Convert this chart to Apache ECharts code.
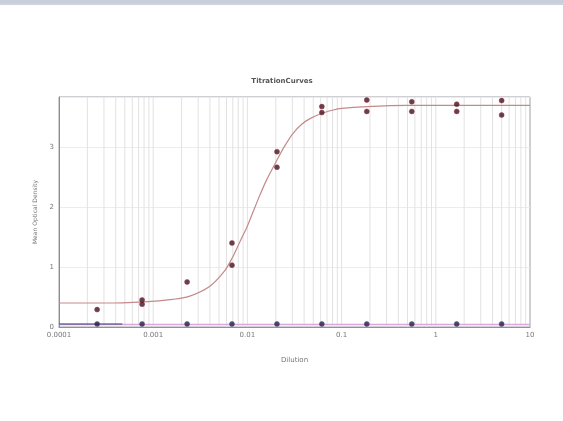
<!DOCTYPE html>
<html>
<head>
<meta charset="utf-8">
<script src="https://cdn.jsdelivr.net/npm/echarts@6/dist/echarts.min.js"></script>
<style>
html,body{margin:0;padding:0;background:#fff;}
#bar1{position:absolute;left:0;top:0;width:563px;height:3px;background:#c7cfdd;}
#bar2{position:absolute;left:0;top:3px;width:563px;height:2px;background:#d2d2d6;}
#main{position:absolute;left:0;top:0;width:563px;height:421px;}
</style>
</head>
<body>
<div id="main"></div>
<div id="bar1"></div>
<div id="bar2"></div>
<script>
// Dilutions (x) and replicate optical densities
const dilutions = [0.000254, 0.000762, 0.00229, 0.00686, 0.0206, 0.0617, 0.185, 0.556, 1.667, 5];
const odRep1 = [0.29, 0.45, 0.75, 1.40, 2.92, 3.67, 3.78, 3.75, 3.71, 3.77];
const odRep2 = [null, 0.38, null, 1.03, 2.66, 3.57, 3.59, 3.59, 3.59, 3.53];
const blankOD = [0.05, 0.05, 0.05, 0.05, 0.05, 0.05, 0.05, 0.05, 0.05, 0.05];

// Fitted curve
const fitX = [0.0001, 0.0003, 0.0008, 0.0016, 0.0024, 0.004, 0.0057, 0.0069, 0.0085, 0.0098, 0.0115, 0.0136, 0.016, 0.0206, 0.025, 0.0307, 0.038, 0.0462, 0.0617, 0.08, 0.1, 0.185, 0.5, 10];
const fitY = [0.40, 0.40, 0.42, 0.46, 0.51, 0.68, 0.93, 1.15, 1.45, 1.65, 1.92, 2.20, 2.45, 2.78, 3.02, 3.23, 3.38, 3.47, 3.56, 3.61, 3.64, 3.67, 3.69, 3.69];

// Blank fit lines
const blankFitX = [0.0001, 10];
const blankFitY = [0.04, 0.04];
const blankFit2X = [0.0001, 0.00047];
const blankFit2Y = [0.05, 0.05];

const xTickLabels = {"0.0001":"0.0001","0.001":"0.001","0.01":"0.01","0.1":"0.1","1":"1","10":"10"};
const decades = [0.0001, 0.001, 0.01, 0.1, 1];
const minorMult = [2, 3, 4, 5, 6, 7, 8, 9];
const yMax = 3.83;

const gridXs = [];
decades.forEach(d => minorMult.forEach(m => gridXs.push(+(d * m).toPrecision(3))));
[0.001, 0.01, 0.1, 1].forEach(d => gridXs.push(d));

function pairs(xs, ys) { return xs.map((x, i) => [x, ys[i]]).filter(p => p[1] !== null); }

const chart = echarts.init(document.getElementById('main'));
const lblFont = {fontFamily: 'DejaVu Sans', fontSize: 7, color: '#777'};
chart.setOption({
  animation: false,
  backgroundColor: '#fff',
  title: {
    text: 'TitrationCurves', left: 277, top: 73, textAlign: 'center',
    textStyle: {fontFamily: 'DejaVu Sans', fontSize: 7, fontWeight: 'bold', color: '#555'}
  },
  grid: {left: 59, right: 33, top: 97, bottom: 94, show: true, borderColor: '#a0a0a8', borderWidth: 1},
  xAxis: {
    type: 'log', logBase: 10, min: 0.0001, max: 10,
    name: 'Dilution', nameLocation: 'middle', nameGap: 30,
    nameTextStyle: lblFont,
    axisLine: {show: true, onZero: false, lineStyle: {color: '#9090a0'}},
    axisTick: {show: false},
    splitLine: {show: false},
    axisLabel: Object.assign({margin: 5, formatter: v => xTickLabels[String(v)] || String(v)}, lblFont)
  },
  yAxis: {
    type: 'value', min: 0, max: yMax, interval: 1,
    name: 'Mean Optical Density', nameLocation: 'middle', nameGap: 15, nameRotate: 90,
    nameTextStyle: Object.assign({}, lblFont, {fontSize: 6}),
    axisLine: {show: true, lineStyle: {color: '#8a8aa6'}},
    axisTick: {show: false},
    splitLine: {show: true, lineStyle: {color: '#ececec', width: 1}},
    axisLabel: Object.assign({margin: 5, showMaxLabel: false}, lblFont)
  },
  series: [
    {
      type: 'custom', silent: true, z: 1,
      data: gridXs.map(v => [v]),
      encode: {x: 0},
      renderItem: function (params, api) {
        const p0 = api.coord([api.value(0), 0]);
        const p1 = api.coord([api.value(0), yMax]);
        return {type: 'line', shape: {x1: p0[0], y1: p0[1], x2: p1[0], y2: p1[1]},
          style: {stroke: '#e2e2e2', lineWidth: 1}};
      }
    },
    {
      type: 'line', data: pairs(blankFitX, blankFitY), showSymbol: false, smooth: false, z: 2,
      lineStyle: {color: '#d9a9d9', width: 1.5}
    },
    {
      type: 'line', data: pairs(blankFit2X, blankFit2Y), showSymbol: false, z: 3,
      lineStyle: {color: '#3a3a80', width: 1.2}
    },
    {
      type: 'line', data: pairs(fitX, fitY), showSymbol: false, smooth: 0.3, z: 3,
      lineStyle: {color: '#c48a8a', width: 1.2}
    },
    {
      type: 'scatter', data: pairs(dilutions, odRep1).concat(pairs(dilutions, odRep2)), z: 4,
      symbolSize: 5, itemStyle: {color: '#3b1420', borderColor: '#a03040', borderWidth: 0.6}
    },
    {
      type: 'scatter', data: pairs(dilutions, blankOD), z: 4,
      symbolSize: 5, itemStyle: {color: '#1e1e40', borderColor: '#604080', borderWidth: 0.6}
    }
  ]
});
</script>
</body>
</html>
